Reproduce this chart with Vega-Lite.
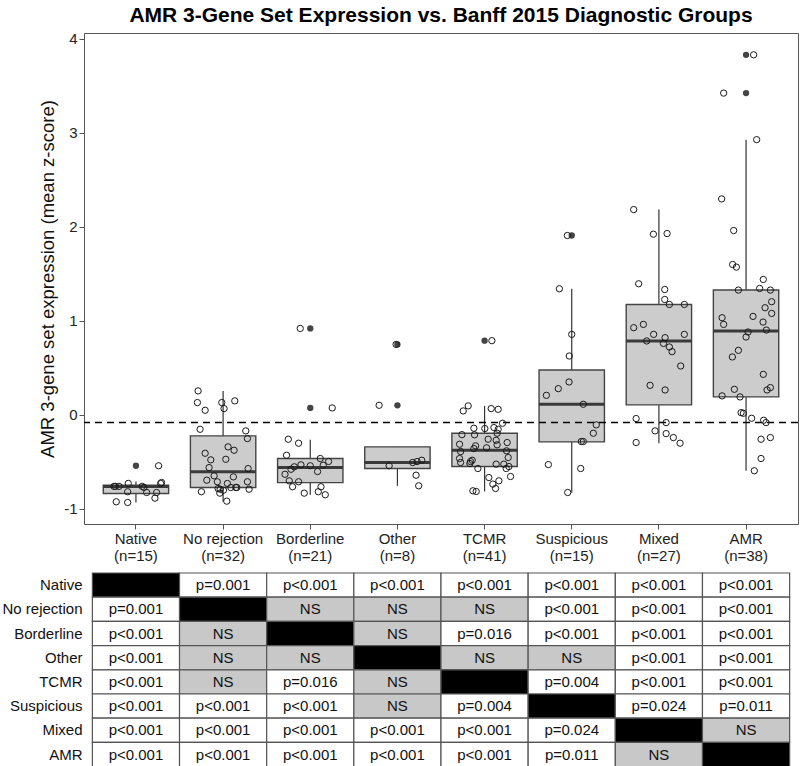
{
"$schema": "https://vega.github.io/schema/vega-lite/v6.json",
"padding": {"left": 1, "top": 4, "right": 0, "bottom": 0},
"spacing": 8,
"config": {"font": "Liberation Sans", "view": {"stroke": null}, "axis": {"grid": false}},
"resolve": {"scale": {"x": "independent", "y": "independent"}},
"datasets": {
"summ": [
{"g":"Native","lo":-0.931,"q1":-0.836,"med":-0.761,"q3":-0.747,"hi":-0.708},
{"g":"No rejection","lo":-0.924,"q1":-0.772,"med":-0.605,"q3":-0.223,"hi":0.255},
{"g":"Borderline","lo":-0.849,"q1":-0.720,"med":-0.560,"q3":-0.464,"hi":-0.265},
{"g":"Other","lo":-0.754,"q1":-0.570,"med":-0.506,"q3":-0.340,"hi":-0.340},
{"g":"TCMR","lo":-0.814,"q1":-0.549,"med":-0.376,"q3":-0.195,"hi":0.096},
{"g":"Suspicious","lo":-0.828,"q1":-0.287,"med":0.113,"q3":0.478,"hi":1.341},
{"g":"Mixed","lo":-0.301,"q1":0.106,"med":0.786,"q3":1.174,"hi":2.183},
{"g":"AMR","lo":-0.594,"q1":0.191,"med":0.892,"q3":1.327,"hi":2.926}
],
"outl": [
{"g":"Native","v":-0.541},
{"g":"Borderline","v":0.919},{"g":"Borderline","v":0.074},
{"g":"Other","v":0.749},{"g":"Other","v":0.102},
{"g":"TCMR","v":0.789},
{"g":"Suspicious","v":1.907},
{"g":"AMR","v":3.828},{"g":"AMR","v":3.421}
],
"pts": [
{"g":"Native","j":-0.226,"v":-0.924},{"g":"Native","j":-0.095,"v":-0.931},{"g":"Native","j":0.260,"v":-0.541},{"g":"Native","j":-0.252,"v":-0.760},{"g":"Native","j":-0.235,"v":-0.760},{"g":"Native","j":-0.195,"v":-0.760},{"g":"Native","j":-0.088,"v":-0.728},{"g":"Native","j":-0.095,"v":-0.817},{"g":"Native","j":0.072,"v":-0.760},{"g":"Native","j":0.092,"v":-0.771},{"g":"Native","j":0.123,"v":-0.825},{"g":"Native","j":0.218,"v":-0.885},{"g":"Native","j":0.237,"v":-0.825},{"g":"Native","j":0.294,"v":-0.719},{"g":"Native","j":0.283,"v":-0.729},
{"g":"No rejection","j":-0.287,"v":0.255},{"g":"No rejection","j":-0.295,"v":0.131},{"g":"No rejection","j":-0.206,"v":0.049},{"g":"No rejection","j":-0.015,"v":0.131},{"g":"No rejection","j":0.011,"v":0.067},{"g":"No rejection","j":0.134,"v":0.149},{"g":"No rejection","j":-0.264,"v":-0.153},{"g":"No rejection","j":0.260,"v":-0.170},{"g":"No rejection","j":0.279,"v":-0.252},{"g":"No rejection","j":0.057,"v":-0.340},{"g":"No rejection","j":0.126,"v":-0.376},{"g":"No rejection","j":-0.206,"v":-0.408},{"g":"No rejection","j":-0.141,"v":-0.478},{"g":"No rejection","j":0.031,"v":-0.472},{"g":"No rejection","j":-0.161,"v":-0.560},{"g":"No rejection","j":0.287,"v":-0.571},{"g":"No rejection","j":-0.103,"v":-0.648},{"g":"No rejection","j":0.118,"v":-0.659},{"g":"No rejection","j":-0.187,"v":-0.694},{"g":"No rejection","j":-0.066,"v":-0.711},{"g":"No rejection","j":0.049,"v":-0.729},{"g":"No rejection","j":0.279,"v":-0.711},{"g":"No rejection","j":-0.249,"v":-0.817},{"g":"No rejection","j":-0.057,"v":-0.783},{"g":"No rejection","j":-0.034,"v":-0.790},{"g":"No rejection","j":0.004,"v":-0.801},{"g":"No rejection","j":0.088,"v":-0.772},{"g":"No rejection","j":0.145,"v":-0.772},{"g":"No rejection","j":0.157,"v":-0.772},{"g":"No rejection","j":0.298,"v":-0.790},{"g":"No rejection","j":-0.038,"v":-0.832},{"g":"No rejection","j":0.042,"v":-0.917},
{"g":"Borderline","j":-0.115,"v":0.919},{"g":"Borderline","j":0.252,"v":0.074},{"g":"Borderline","j":-0.252,"v":-0.259},{"g":"Borderline","j":-0.134,"v":-0.301},{"g":"Borderline","j":-0.272,"v":-0.429},{"g":"Borderline","j":0.115,"v":-0.464},{"g":"Borderline","j":0.210,"v":-0.495},{"g":"Borderline","j":-0.107,"v":-0.531},{"g":"Borderline","j":0.0,"v":-0.541},{"g":"Borderline","j":-0.183,"v":-0.552},{"g":"Borderline","j":-0.221,"v":-0.578},{"g":"Borderline","j":0.149,"v":-0.535},{"g":"Borderline","j":0.084,"v":-0.602},{"g":"Borderline","j":-0.290,"v":-0.631},{"g":"Borderline","j":-0.241,"v":-0.701},{"g":"Borderline","j":-0.134,"v":-0.711},{"g":"Borderline","j":-0.203,"v":-0.764},{"g":"Borderline","j":0.123,"v":-0.764},{"g":"Borderline","j":0.092,"v":-0.817},{"g":"Borderline","j":-0.069,"v":-0.832},{"g":"Borderline","j":0.172,"v":-0.849},
{"g":"Other","j":-0.015,"v":0.749},{"g":"Other","j":-0.210,"v":0.102},{"g":"Other","j":-0.095,"v":-0.541},{"g":"Other","j":0.175,"v":-0.506},{"g":"Other","j":0.226,"v":-0.496},{"g":"Other","j":0.279,"v":-0.482},{"g":"Other","j":0.214,"v":-0.641},{"g":"Other","j":0.244,"v":-0.754},
{"g":"TCMR","j":-0.245,"v":0.042},{"g":"TCMR","j":-0.188,"v":0.096},{"g":"TCMR","j":0.076,"v":0.067},{"g":"TCMR","j":0.156,"v":0.059},{"g":"TCMR","j":0.206,"v":-0.089},{"g":"TCMR","j":-0.123,"v":-0.142},{"g":"TCMR","j":0.003,"v":-0.145},{"g":"TCMR","j":0.107,"v":-0.135},{"g":"TCMR","j":0.156,"v":-0.153},{"g":"TCMR","j":0.144,"v":-0.195},{"g":"TCMR","j":-0.115,"v":-0.212},{"g":"TCMR","j":0.041,"v":-0.259},{"g":"TCMR","j":0.133,"v":-0.270},{"g":"TCMR","j":0.259,"v":-0.294},{"g":"TCMR","j":0.144,"v":-0.318},{"g":"TCMR","j":-0.287,"v":-0.312},{"g":"TCMR","j":-0.103,"v":-0.329},{"g":"TCMR","j":0.023,"v":-0.350},{"g":"TCMR","j":-0.275,"v":-0.390},{"g":"TCMR","j":-0.123,"v":-0.358},{"g":"TCMR","j":0.252,"v":-0.382},{"g":"TCMR","j":0.271,"v":-0.453},{"g":"TCMR","j":-0.287,"v":-0.464},{"g":"TCMR","j":-0.275,"v":-0.506},{"g":"TCMR","j":-0.161,"v":-0.496},{"g":"TCMR","j":-0.142,"v":-0.482},{"g":"TCMR","j":-0.169,"v":-0.517},{"g":"TCMR","j":0.133,"v":-0.524},{"g":"TCMR","j":0.221,"v":-0.524},{"g":"TCMR","j":0.279,"v":-0.549},{"g":"TCMR","j":0.248,"v":-0.570},{"g":"TCMR","j":-0.077,"v":-0.570},{"g":"TCMR","j":0.049,"v":-0.666},{"g":"TCMR","j":0.298,"v":-0.655},{"g":"TCMR","j":0.164,"v":-0.701},{"g":"TCMR","j":0.095,"v":-0.736},{"g":"TCMR","j":0.126,"v":-0.782},{"g":"TCMR","j":-0.134,"v":-0.807},{"g":"TCMR","j":-0.096,"v":-0.814},{"g":"TCMR","j":0.084,"v":0.789},{"g":"TCMR","j":-0.260,"v":-0.210},
{"g":"Suspicious","j":-0.050,"v":1.907},{"g":"Suspicious","j":-0.142,"v":1.341},{"g":"Suspicious","j":0.0,"v":0.856},{"g":"Suspicious","j":-0.028,"v":0.626},{"g":"Suspicious","j":-0.031,"v":0.350},{"g":"Suspicious","j":-0.154,"v":0.279},{"g":"Suspicious","j":-0.291,"v":0.208},{"g":"Suspicious","j":0.133,"v":0.113},{"g":"Suspicious","j":0.282,"v":-0.106},{"g":"Suspicious","j":0.248,"v":-0.195},{"g":"Suspicious","j":0.110,"v":-0.283},{"g":"Suspicious","j":0.133,"v":-0.283},{"g":"Suspicious","j":-0.268,"v":-0.528},{"g":"Suspicious","j":0.103,"v":-0.570},{"g":"Suspicious","j":-0.046,"v":-0.825},
{"g":"Mixed","j":-0.289,"v":2.183},{"g":"Mixed","j":-0.063,"v":1.921},{"g":"Mixed","j":0.094,"v":1.928},{"g":"Mixed","j":-0.232,"v":1.394},{"g":"Mixed","j":0.067,"v":1.333},{"g":"Mixed","j":0.067,"v":1.227},{"g":"Mixed","j":0.120,"v":1.174},{"g":"Mixed","j":0.292,"v":1.174},{"g":"Mixed","j":-0.289,"v":0.927},{"g":"Mixed","j":-0.178,"v":0.962},{"g":"Mixed","j":-0.060,"v":0.856},{"g":"Mixed","j":0.292,"v":0.856},{"g":"Mixed","j":-0.140,"v":0.786},{"g":"Mixed","j":0.071,"v":0.821},{"g":"Mixed","j":0.052,"v":0.760},{"g":"Mixed","j":0.120,"v":0.722},{"g":"Mixed","j":0.151,"v":0.672},{"g":"Mixed","j":0.250,"v":0.520},{"g":"Mixed","j":-0.101,"v":0.314},{"g":"Mixed","j":0.071,"v":0.265},{"g":"Mixed","j":-0.261,"v":-0.039},{"g":"Mixed","j":0.083,"v":-0.082},{"g":"Mixed","j":-0.044,"v":-0.170},{"g":"Mixed","j":0.083,"v":-0.199},{"g":"Mixed","j":0.166,"v":-0.241},{"g":"Mixed","j":0.243,"v":-0.301},{"g":"Mixed","j":-0.261,"v":-0.294},
{"g":"AMR","j":0.087,"v":3.828},{"g":"AMR","j":-0.257,"v":3.421},{"g":"AMR","j":0.122,"v":2.926},{"g":"AMR","j":-0.280,"v":2.296},{"g":"AMR","j":-0.142,"v":1.960},{"g":"AMR","j":-0.154,"v":1.599},{"g":"AMR","j":-0.111,"v":1.571},{"g":"AMR","j":0.198,"v":1.440},{"g":"AMR","j":0.156,"v":1.344},{"g":"AMR","j":0.279,"v":1.327},{"g":"AMR","j":-0.088,"v":1.327},{"g":"AMR","j":0.294,"v":1.203},{"g":"AMR","j":0.218,"v":1.139},{"g":"AMR","j":0.294,"v":1.079},{"g":"AMR","j":0.080,"v":1.047},{"g":"AMR","j":-0.275,"v":1.033},{"g":"AMR","j":-0.257,"v":0.962},{"g":"AMR","j":0.195,"v":0.987},{"g":"AMR","j":0.233,"v":0.902},{"g":"AMR","j":0.023,"v":0.881},{"g":"AMR","j":0.0,"v":0.828},{"g":"AMR","j":-0.088,"v":0.686},{"g":"AMR","j":-0.157,"v":0.616},{"g":"AMR","j":0.198,"v":0.431},{"g":"AMR","j":-0.134,"v":0.272},{"g":"AMR","j":-0.275,"v":0.202},{"g":"AMR","j":-0.069,"v":0.191},{"g":"AMR","j":0.241,"v":0.265},{"g":"AMR","j":0.279,"v":0.290},{"g":"AMR","j":-0.057,"v":0.024},{"g":"AMR","j":-0.031,"v":0.017},{"g":"AMR","j":0.064,"v":-0.036},{"g":"AMR","j":0.202,"v":-0.057},{"g":"AMR","j":0.229,"v":-0.082},{"g":"AMR","j":0.172,"v":-0.259},{"g":"AMR","j":0.279,"v":-0.241},{"g":"AMR","j":0.172,"v":-0.464},{"g":"AMR","j":0.095,"v":-0.594}
],
"tbl": [
{"r":"Native","c":"Native","p":"","k":"d"},{"r":"Native","c":"No rejection","p":"p=0.001","k":"s"},{"r":"Native","c":"Borderline","p":"p<0.001","k":"s"},{"r":"Native","c":"Other","p":"p<0.001","k":"s"},{"r":"Native","c":"TCMR","p":"p<0.001","k":"s"},{"r":"Native","c":"Suspicious","p":"p<0.001","k":"s"},{"r":"Native","c":"Mixed","p":"p<0.001","k":"s"},{"r":"Native","c":"AMR","p":"p<0.001","k":"s"},
{"r":"No rejection","c":"Native","p":"p=0.001","k":"s"},{"r":"No rejection","c":"No rejection","p":"","k":"d"},{"r":"No rejection","c":"Borderline","p":"NS","k":"n"},{"r":"No rejection","c":"Other","p":"NS","k":"n"},{"r":"No rejection","c":"TCMR","p":"NS","k":"n"},{"r":"No rejection","c":"Suspicious","p":"p<0.001","k":"s"},{"r":"No rejection","c":"Mixed","p":"p<0.001","k":"s"},{"r":"No rejection","c":"AMR","p":"p<0.001","k":"s"},
{"r":"Borderline","c":"Native","p":"p<0.001","k":"s"},{"r":"Borderline","c":"No rejection","p":"NS","k":"n"},{"r":"Borderline","c":"Borderline","p":"","k":"d"},{"r":"Borderline","c":"Other","p":"NS","k":"n"},{"r":"Borderline","c":"TCMR","p":"p=0.016","k":"s"},{"r":"Borderline","c":"Suspicious","p":"p<0.001","k":"s"},{"r":"Borderline","c":"Mixed","p":"p<0.001","k":"s"},{"r":"Borderline","c":"AMR","p":"p<0.001","k":"s"},
{"r":"Other","c":"Native","p":"p<0.001","k":"s"},{"r":"Other","c":"No rejection","p":"NS","k":"n"},{"r":"Other","c":"Borderline","p":"NS","k":"n"},{"r":"Other","c":"Other","p":"","k":"d"},{"r":"Other","c":"TCMR","p":"NS","k":"n"},{"r":"Other","c":"Suspicious","p":"NS","k":"n"},{"r":"Other","c":"Mixed","p":"p<0.001","k":"s"},{"r":"Other","c":"AMR","p":"p<0.001","k":"s"},
{"r":"TCMR","c":"Native","p":"p<0.001","k":"s"},{"r":"TCMR","c":"No rejection","p":"NS","k":"n"},{"r":"TCMR","c":"Borderline","p":"p=0.016","k":"s"},{"r":"TCMR","c":"Other","p":"NS","k":"n"},{"r":"TCMR","c":"TCMR","p":"","k":"d"},{"r":"TCMR","c":"Suspicious","p":"p=0.004","k":"s"},{"r":"TCMR","c":"Mixed","p":"p<0.001","k":"s"},{"r":"TCMR","c":"AMR","p":"p<0.001","k":"s"},
{"r":"Suspicious","c":"Native","p":"p<0.001","k":"s"},{"r":"Suspicious","c":"No rejection","p":"p<0.001","k":"s"},{"r":"Suspicious","c":"Borderline","p":"p<0.001","k":"s"},{"r":"Suspicious","c":"Other","p":"NS","k":"n"},{"r":"Suspicious","c":"TCMR","p":"p=0.004","k":"s"},{"r":"Suspicious","c":"Suspicious","p":"","k":"d"},{"r":"Suspicious","c":"Mixed","p":"p=0.024","k":"s"},{"r":"Suspicious","c":"AMR","p":"p=0.011","k":"s"},
{"r":"Mixed","c":"Native","p":"p<0.001","k":"s"},{"r":"Mixed","c":"No rejection","p":"p<0.001","k":"s"},{"r":"Mixed","c":"Borderline","p":"p<0.001","k":"s"},{"r":"Mixed","c":"Other","p":"p<0.001","k":"s"},{"r":"Mixed","c":"TCMR","p":"p<0.001","k":"s"},{"r":"Mixed","c":"Suspicious","p":"p=0.024","k":"s"},{"r":"Mixed","c":"Mixed","p":"","k":"d"},{"r":"Mixed","c":"AMR","p":"NS","k":"n"},
{"r":"AMR","c":"Native","p":"p<0.001","k":"s"},{"r":"AMR","c":"No rejection","p":"p<0.001","k":"s"},{"r":"AMR","c":"Borderline","p":"p<0.001","k":"s"},{"r":"AMR","c":"Other","p":"p<0.001","k":"s"},{"r":"AMR","c":"TCMR","p":"p<0.001","k":"s"},{"r":"AMR","c":"Suspicious","p":"p=0.011","k":"s"},{"r":"AMR","c":"Mixed","p":"NS","k":"n"},{"r":"AMR","c":"AMR","p":"","k":"d"}
]
},
"vconcat": [
{
"width": 714, "height": 491,
"view": {"stroke": "#555555", "strokeWidth": 1},
"title": {"text": "AMR 3-Gene Set Expression vs. Banff 2015 Diagnostic Groups", "fontSize": 21, "fontWeight": "bold", "anchor": "middle", "offset": 6, "color": "#000000"},
"layer": [
{"data": {"name": "summ"}, "mark": {"type": "rule", "color": "#333333", "strokeWidth": 1.2},
 "encoding": {
  "x": {"field": "g", "type": "nominal", "sort": ["Native","No rejection","Borderline","Other","TCMR","Suspicious","Mixed","AMR"], "scale": {"type": "band", "paddingInner": 0, "paddingOuter": 0.096},
   "axis": {"title": null, "labelAngle": 0, "labelFontSize": 15, "labelColor": "#222222", "labelLineHeight": 17.5, "tickSize": 5, "tickColor": "#555555", "labelPadding": 2, "domain": false,
    "labelExpr": "[datum.label, {'Native':'(n=15)','No rejection':'(n=32)','Borderline':'(n=21)','Other':'(n=8)','TCMR':'(n=41)','Suspicious':'(n=15)','Mixed':'(n=27)','AMR':'(n=38)'}[datum.label]]"}},
  "y": {"field": "lo", "type": "quantitative", "title": "AMR 3-gene set expression (mean z-score)", "scale": {"domain": [-1.16, 4.06], "nice": false, "zero": false},
   "axis": {"values": [-1,0,1,2,3,4], "format": "d", "labelExpr": "replace(datum.label, '−', '-')", "labelFontSize": 15, "labelColor": "#222222", "tickSize": 5, "tickColor": "#555555", "labelPadding": 2, "domain": false, "titleFontSize": 18.5, "titleFontWeight": "normal", "titleColor": "#111111", "titlePadding": 6}},
  "y2": {"field": "hi"}
 }},
{"data": {"name": "summ"}, "mark": {"type": "bar", "fill": "#cccccc", "stroke": "#444444", "strokeWidth": 1.4},
 "encoding": {
  "x": {"field": "g", "type": "nominal", "bandPosition": 0.125, "sort": ["Native","No rejection","Borderline","Other","TCMR","Suspicious","Mixed","AMR"]},
  "x2": {"field": "g", "bandPosition": 0.875},
  "y": {"field": "q1", "type": "quantitative", "title": "AMR 3-gene set expression (mean z-score)"},
  "y2": {"field": "q3"}
 }},
{"data": {"name": "summ"}, "mark": {"type": "tick", "size": 65.4, "thickness": 3, "color": "#3a3a3a", "opacity": 1},
 "encoding": {
  "x": {"field": "g", "type": "nominal", "sort": ["Native","No rejection","Borderline","Other","TCMR","Suspicious","Mixed","AMR"]},
  "y": {"field": "med", "type": "quantitative", "title": "AMR 3-gene set expression (mean z-score)"}
 }},
{"data": {"values": [{"yv": -0.08}]}, "mark": {"type": "rule", "color": "#000000", "strokeWidth": 1.5, "strokeDash": [7, 5]},
 "encoding": {
  "y": {"field": "yv", "type": "quantitative", "title": "AMR 3-gene set expression (mean z-score)"}
 }},
{"data": {"name": "outl"}, "mark": {"type": "point", "shape": "circle", "filled": true, "size": 40, "color": "#444444", "opacity": 1},
 "encoding": {
  "x": {"field": "g", "type": "nominal", "sort": ["Native","No rejection","Borderline","Other","TCMR","Suspicious","Mixed","AMR"]},
  "y": {"field": "v", "type": "quantitative", "title": "AMR 3-gene set expression (mean z-score)"}
 }},
{"data": {"name": "pts"}, "mark": {"type": "point", "shape": "circle", "filled": false, "size": 40, "strokeWidth": 1, "color": "#1a1a1a", "opacity": 1},
 "encoding": {
  "x": {"field": "g", "type": "nominal", "sort": ["Native","No rejection","Borderline","Other","TCMR","Suspicious","Mixed","AMR"]},
  "xOffset": {"field": "j", "type": "quantitative", "scale": {"domain": [-0.5, 0.5]}},
  "y": {"field": "v", "type": "quantitative", "title": "AMR 3-gene set expression (mean z-score)"}
 }}
]
},
{
"width": 714, "height": 193.6,
"data": {"name": "tbl"},
"layer": [
 {"mark": {"type": "rect", "stroke": "#555555", "strokeWidth": 1.2},
  "encoding": {
   "x": {"field": "c", "type": "nominal", "bandPosition": 0, "sort": ["Native","No rejection","Borderline","Other","TCMR","Suspicious","Mixed","AMR"], "scale": {"type": "band", "paddingInner": 0, "paddingOuter": 0.096}, "axis": null},
   "x2": {"field": "c", "bandPosition": 1},
   "y": {"field": "r", "type": "nominal", "bandPosition": 0, "sort": ["Native","No rejection","Borderline","Other","TCMR","Suspicious","Mixed","AMR"], "scale": {"type": "band", "paddingInner": 0, "paddingOuter": 0},
    "axis": {"title": null, "domain": false, "ticks": false, "labelFontSize": 15, "labelColor": "#111111", "labelPadding": 2}},
   "y2": {"field": "r", "bandPosition": 1},
   "fill": {"field": "k", "type": "nominal", "scale": {"domain": ["s","n","d"], "range": ["#ffffff","#c8c8c8","#000000"]}, "legend": null}}},
 {"mark": {"type": "text", "fontSize": 15, "color": "#111111"},
  "encoding": {
   "x": {"field": "c", "type": "nominal", "sort": ["Native","No rejection","Borderline","Other","TCMR","Suspicious","Mixed","AMR"]},
   "y": {"field": "r", "type": "nominal", "sort": ["Native","No rejection","Borderline","Other","TCMR","Suspicious","Mixed","AMR"]},
   "text": {"field": "p", "type": "nominal"}}}
]
}
]
}
